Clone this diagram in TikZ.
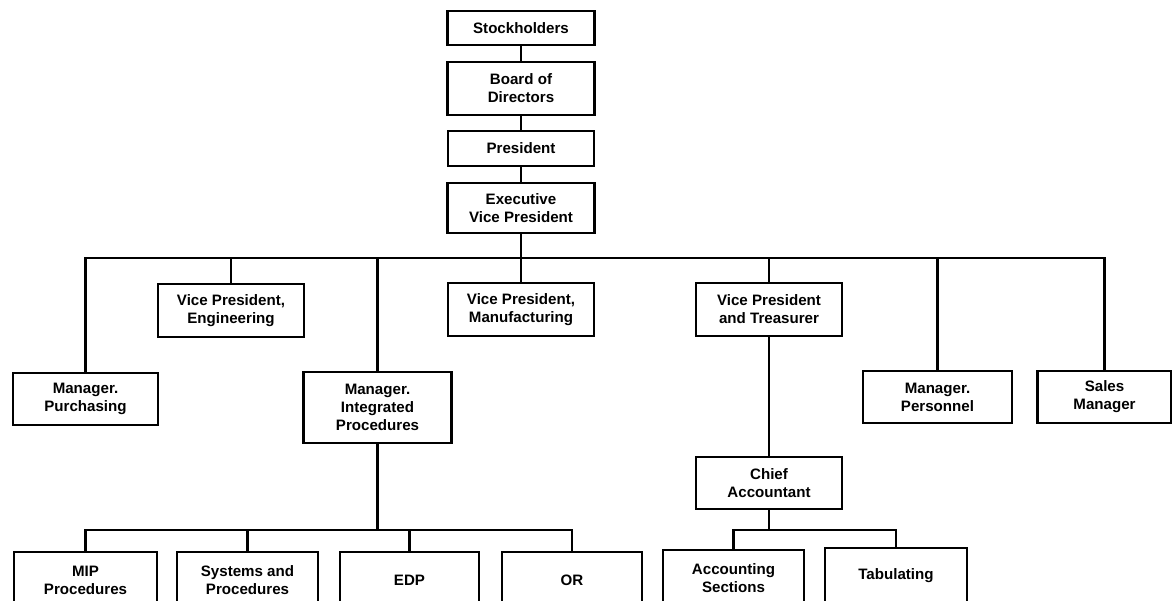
\documentclass[tikz,border=0pt]{standalone}
\usepackage{fontspec}
\setmainfont{Liberation Sans}
\begin{document}
\begin{tikzpicture}[x=0.02cm,y=-0.02cm,
  org/.style={draw, line width=1.2pt, inner sep=0pt, align=center,
    font=\fontsize{8.6}{10.2}\selectfont\bfseries},
  bw/.style={minimum width=#1*0.02cm},
  bh/.style={minimum height=#1*0.02cm},
  link/.style={line width=1.6pt}]
\useasboundingbox (0,0) rectangle (1172,600);
\clip (0,0) rectangle (1172,600);
% top chain
\node[org,bw=147,bh=34] (stock) at (521,28) {Stockholders};
\node[org,bw=147,bh=53] (board) at (521,88.5) {Board of\\Directors};
\node[org,bw=146,bh=35] (pres) at (521,148.5) {President};
\node[org,bw=147,bh=50] (evp) at (521,208) {Executive\\Vice President};
% second level
\node[org,bw=146,bh=53] (eng) at (231,310.5) {Vice President,\\Engineering};
\node[org,bw=146,bh=53] (manu) at (521,309.5) {Vice President,\\Manufacturing};
\node[org,bw=146,bh=53] (treas) at (769,309.5) {Vice President\\and Treasurer};
\node[org,bw=145,bh=52] (purch) at (85.5,399) {Manager.\\Purchasing};
\node[org,bw=148,bh=71] (integ) at (377.5,407.5) {Manager.\\Integrated\\Procedures};
\node[org,bw=149,bh=52] (pers) at (937.5,397) {Manager.\\Personnel};
\node[org,bw=134,bh=52] (sales) at (1104.5,397) {Sales\\Manager};
\node[org,bw=146,bh=52] (chief) at (769,483) {Chief\\Accountant};
% bottom row
\node[org,bw=143,bh=56] (mip) at (85.5,580) {MIP\\Procedures};
\node[org,bw=141,bh=56] (sys) at (247.5,580) {Systems and\\Procedures};
\node[org,bw=139,bh=56] (edp) at (409.5,580) {EDP};
\node[org,bw=140,bh=56] (orx) at (572,580) {OR};
\node[org,bw=141,bh=56] (acct) at (733.5,578) {Accounting\\Sections};
\node[org,bw=142,bh=56] (tab) at (896,576) {Tabulating};
% connectors
\coordinate (bus) at (521,258);
\coordinate (ibus) at (377.5,530);
\coordinate (cbus) at (769,530);
\draw[link] (stock) -- (board);
\draw[link] (board) -- (pres);
\draw[link] (pres) -- (evp);
\draw[link] (evp.south) -- (manu.north);
\draw[link] (purch.north) |- (bus) -| (sales.north);
\foreach \n in {eng,integ,treas,pers}
  \draw[link] (\n.north) -- (\n.north |- bus);
\draw[link] (treas.south) -- (chief.north);
\draw[link] (integ.south) -- (ibus);
\draw[link] (mip.north) |- (ibus) -| (orx.north);
\foreach \n in {sys,edp}
  \draw[link] (\n.north) -- (\n.north |- ibus);
\draw[link] (chief.south) -- (cbus);
\draw[link] (acct.north) |- (cbus) -| (tab.north);
\end{tikzpicture}
\end{document}
